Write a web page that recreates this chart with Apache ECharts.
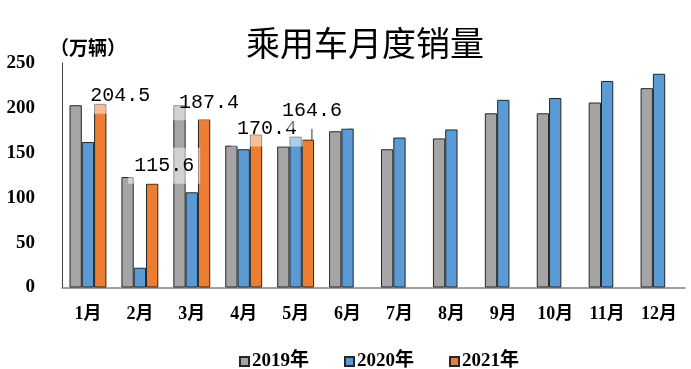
<!DOCTYPE html>
<html>
<head>
<meta charset="utf-8">
<script src="https://cdn.jsdelivr.net/npm/echarts@6/dist/echarts.min.js"></script>
<style>html,body{margin:0;padding:0;background:#fff}#c{width:691px;height:369px}</style>
</head>
<body>
<div id="c"></div>
<script>
var categories = ['1月','2月','3月','4月','5月','6月','7月','8月','9月','10月','11月','12月'];
var seriesNames = ['2019年','2020年','2021年'];
var sales2019 = [203, 123, 203, 158, 157, 174, 154, 166, 194, 194, 206, 222];
var sales2020 = [162, 22, 106, 154, 168, 177, 167, 176, 209, 211, 230, 238];
var sales2021 = [204.5, 115.6, 187.4, 170.4, 164.6, null, null, null, null, null, null, null];
var yTicks = { min: 0, max: 250, interval: 50 };

// label placement styling (offset of label centre from bar top centre)
var labelOffsets = [[20, -8], [12, -18], [5, -17], [11, -6], [4, -29]];
var leaderLineIndex = 4;

var serifFont = "'Liberation Serif', 'Noto Sans CJK SC', serif";
var chart = echarts.init(document.getElementById('c'), null, {renderer: 'canvas'});

var data2021 = sales2021.map(function (v, i) {
  if (v == null) return null;
  var item = {
    value: v,
    label: {
      show: true,
      position: ['50%', 0],
      align: 'center',
      verticalAlign: 'middle',
      offset: labelOffsets[i]
    },
    labelLine: { show: i === leaderLineIndex, lineStyle: { color: '#333', width: 1 } }
  };
  return item;
});

var barBorder = { borderColor: '#262626', borderWidth: 1 };

chart.setOption({
  animation: false,
  title: {
    text: '乘用车月度销量',
    left: 360, top: 21, textAlign: 'center',
    textStyle: { fontFamily: "'Noto Sans CJK SC'", fontSize: 34, fontWeight: 'normal', color: '#000' }
  },
  grid: { left: 62, right: 6, top: 63, bottom: 81.5, containLabel: false },
  legend: {
    data: seriesNames,
    left: 234, top: 347,
    icon: 'rect', itemWidth: 9, itemHeight: 9, itemGap: 35,
    textStyle: { fontFamily: serifFont, fontSize: 19, fontWeight: 'bold', color: '#000', padding: [0, 0, 0, -2] }
  },
  xAxis: {
    type: 'category',
    data: categories,
    axisLine: { lineStyle: { color: '#808080', width: 1.5 } },
    axisTick: { show: false },
    axisLabel: { margin: 18, fontFamily: serifFont, fontSize: 18, fontWeight: 'bold', color: '#000' }
  },
  yAxis: {
    type: 'value',
    min: yTicks.min, max: yTicks.max, interval: yTicks.interval,
    name: '（万辆）',
    nameLocation: 'end',
    nameGap: 6,
    nameTextStyle: { fontFamily: "'Noto Sans CJK SC'", fontSize: 19, fontWeight: 'bold', color: '#000', align: 'left', padding: [0, 0, 0, -12] },
    axisLine: { show: true, lineStyle: { color: '#404040', width: 1 } },
    axisTick: { show: false },
    splitLine: { show: false },
    axisLabel: { margin: 27, fontFamily: serifFont, fontSize: 19, fontWeight: 'bold', color: '#000' }
  },
  series: [
    { name: seriesNames[0], type: 'bar', data: sales2019, barWidth: 12.3, barGap: '0%',
      itemStyle: Object.assign({ color: '#A5A5A5' }, barBorder) },
    { name: seriesNames[1], type: 'bar', data: sales2020, barWidth: 12.3, barGap: '0%',
      itemStyle: Object.assign({ color: '#5B9BD5' }, barBorder) },
    { name: seriesNames[2], type: 'bar', data: data2021, barWidth: 12.3, barGap: '0%',
      itemStyle: Object.assign({ color: '#ED7D31' }, barBorder),
      label: {
        show: true,
        fontFamily: "'Liberation Mono', monospace",
        fontSize: 20,
        color: '#000',
        backgroundColor: 'rgba(255,255,255,0.5)',
        padding: [8, 6, 8, 6]
      },
      z: 3
    }
  ]
});
</script>
</body>
</html>
